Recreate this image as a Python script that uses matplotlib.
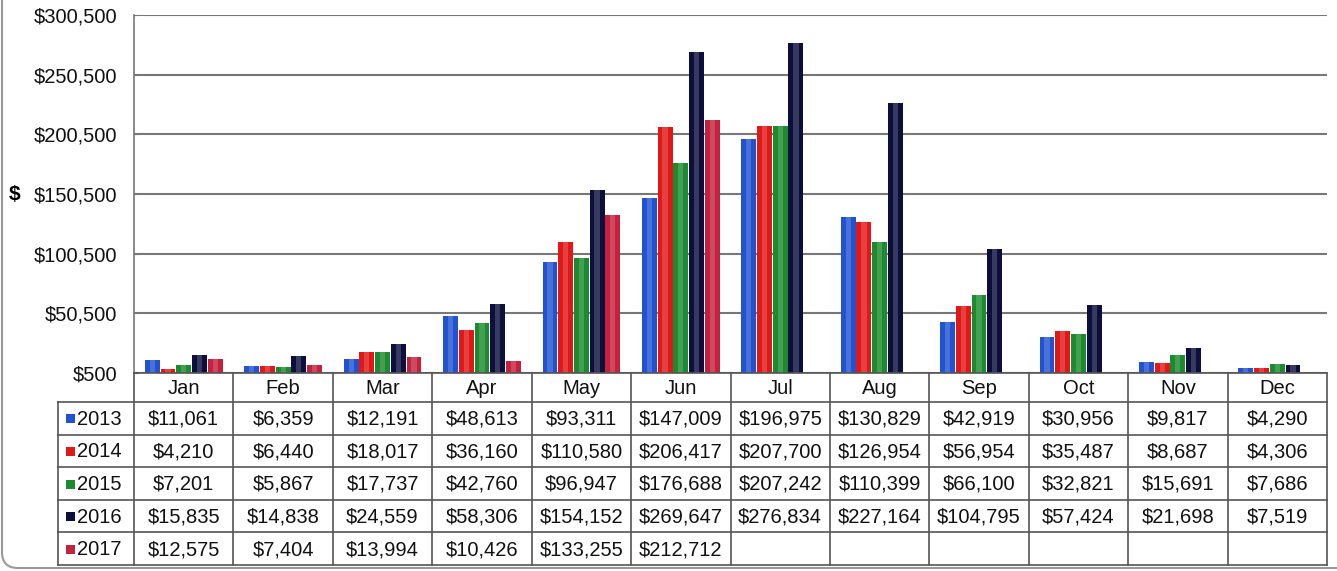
import numpy as np
import matplotlib
matplotlib.use("Agg")
import matplotlib.pyplot as plt
from matplotlib.patches import FancyBboxPatch, Rectangle
from matplotlib.ticker import FuncFormatter

plt.rcParams["font.family"] = ["Liberation Sans", "DejaVu Sans"]

# Monthly revenue by year
months = ["Jan", "Feb", "Mar", "Apr", "May", "Jun",
          "Jul", "Aug", "Sep", "Oct", "Nov", "Dec"]
years = ["2013", "2014", "2015", "2016", "2017"]
rev_2013 = [11061, 6359, 12191, 48613, 93311, 147009, 196975, 130829, 42919, 30956, 9817, 4290]
rev_2014 = [4210, 6440, 18017, 36160, 110580, 206417, 207700, 126954, 56954, 35487, 8687, 4306]
rev_2015 = [7201, 5867, 17737, 42760, 96947, 176688, 207242, 110399, 66100, 32821, 15691, 7686]
rev_2016 = [15835, 14838, 24559, 58306, 154152, 269647, 276834, 227164, 104795, 57424, 21698, 7519]
rev_2017 = [12575, 7404, 13994, 10426, 133255, 212712]
series = [rev_2013, rev_2014, rev_2015, rev_2016, rev_2017]
colors = ["#2152d0", "#e01818", "#1c8a2e", "#0c0f3c", "#c4213c"]

W, H = 1337, 571
fig = plt.figure(figsize=(W / 100, H / 100), dpi=100)

# pixel layout
ax_l, ax_r, ax_t, ax_b = 134, 1327, 15, 373
ax = fig.add_axes([ax_l / W, 1 - ax_b / H, (ax_r - ax_l) / W, (ax_b - ax_t) / H])

base = 500
x = np.arange(len(months))
bw = 0.15
step = 0.158
for i, (vals, c) in enumerate(zip(series, colors)):
    xs = x[:len(vals)] + (i - 2) * step
    heights = np.array(vals) - base
    ax.bar(xs, heights, bottom=base, width=bw, color=c, edgecolor="none", zorder=3)
    # soft highlight down the middle of each bar
    ax.bar(xs, heights, bottom=base, width=bw * 0.35, color="white", alpha=0.18,
           edgecolor="none", zorder=4)

ax.set_xlim(-0.5, len(months) - 0.5)
ax.set_ylim(500, 300500)
ax.set_yticks(np.arange(500, 300501, 50000))
ax.yaxis.set_major_formatter(FuncFormatter(lambda v, p: f"${v:,.0f}"))
ax.tick_params(axis="y", labelsize=14.5, direction="in", length=3, color="#777777",
               pad=12, labelcolor="#111111")
ax.set_xticks([])
ax.grid(axis="y", color="#777777", linewidth=1.5, zorder=1)
for s in ["top", "right", "bottom"]:
    ax.spines[s].set_visible(False)
ax.spines["left"].set_color("#777777")
ax.spines["left"].set_linewidth(1.2)
ax.set_ylabel("$", fontsize=15, fontweight="bold", rotation=0, va="center", ha="center")
ax.yaxis.set_label_coords(-0.1, 0.5)

# data table drawn in pixel space
tb = fig.add_axes([0, 0, 1, 1], zorder=5)
tb.set_xlim(0, W)
tb.set_ylim(H, 0)
tb.axis("off")
tb.patch.set_alpha(0)

lc = "#555555"
lab_l = 58
cw = (ax_r - ax_l) / 12
hdr_b = 402
tbl_b = 565
rh = (tbl_b - hdr_b) / len(years)

# outer border and grid lines
tb.plot([ax_l, ax_l], [ax_b, tbl_b], color=lc, lw=1.2)
for j in range(1, 13):
    tb.plot([ax_l + j * cw] * 2, [ax_b, tbl_b], color=lc, lw=1.2)
tb.plot([ax_l, ax_r], [ax_b, ax_b], color=lc, lw=1.2)
tb.plot([lab_l, lab_l], [hdr_b, tbl_b], color=lc, lw=1.2)
for r in range(len(years) + 1):
    y = hdr_b + r * rh
    tb.plot([lab_l, ax_r], [y, y], color=lc, lw=1.2)

for j, m in enumerate(months):
    tb.text(ax_l + (j + 0.5) * cw, (ax_b + hdr_b) / 2 + 1, m, ha="center", va="center",
            fontsize=14.5, color="#111111")

for r, (yr, vals, c) in enumerate(zip(years, series, colors)):
    yc = hdr_b + (r + 0.5) * rh + 1
    tb.add_patch(Rectangle((lab_l + 8, yc - 5), 9, 9, facecolor=c, edgecolor="none"))
    tb.text(lab_l + 19, yc, yr, ha="left", va="center", fontsize=14.5, color="#111111")
    for j, v in enumerate(vals):
        tb.text(ax_l + (j + 0.5) * cw, yc, f"${v:,}", ha="center", va="center",
                fontsize=14.5, color="#111111")

# rounded chart frame
frame = FancyBboxPatch((2, -40), W + 40, 608, boxstyle="round,pad=0,rounding_size=16",
                       facecolor="none", edgecolor="#999999", lw=1.5)
tb.add_patch(frame)

fig.savefig("out.png", dpi=100)
